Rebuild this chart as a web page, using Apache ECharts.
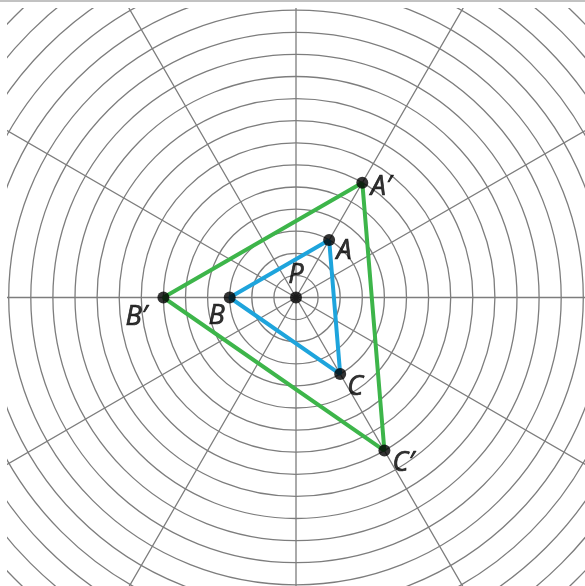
<!DOCTYPE html>
<html>
<head>
<meta charset="utf-8">
<script src="https://cdn.jsdelivr.net/npm/echarts@6/dist/echarts.min.js"></script>
<style>
html,body{margin:0;padding:0;background:#fff;}
#c{width:585px;height:586px;}
</style>
</head>
<body>
<div id="c"></div>
<script>
// Data: points as [radius (grid units), angle (degrees)]
const pointNames = ['P', 'A', 'B', 'C', 'A′', 'B′', 'C′'];
const pointRadius = [0, 3, 3, 4, 6, 6, 8];
const pointAngle = [0, 60, 180, 300, 60, 180, 300];
const triangleOriginal = ['A', 'B', 'C'];
const triangleImage = ['A′', 'B′', 'C′'];
const ringCount = 19;
const spokeStep = 30;

// styles (label offsets in px)
const labelOffsets = {
  'P': [0, -22], 'A': [15, 11], 'B': [-13, 19], 'C': [15, 13],
  'A′': [19, 5], 'B′': [-27, 20], 'C′': [19, 13]
};

const ringPx = 22.1;
const center = [296, 297.5];

function pt(name) {
  const i = pointNames.indexOf(name);
  return [pointRadius[i], pointAngle[i]];
}
function closed(names) {
  const arr = names.map(pt);
  arr.push(pt(names[0]));
  return arr;
}

const chart = echarts.init(document.getElementById('c'), null, {renderer: 'canvas'});
const gridColor = '#7d7d7d';
chart.setOption({
  animation: false,
  backgroundColor: '#ffffff',
  polar: { center: center, radius: ringPx * ringCount },
  radiusAxis: {
    type: 'value', min: 0, max: ringCount, interval: 1,
    axisLine: {show: false}, axisTick: {show: false}, axisLabel: {show: false},
    splitLine: {show: true, lineStyle: {color: gridColor, width: 1.3}}
  },
  angleAxis: {
    type: 'value', min: 0, max: 360, interval: spokeStep, startAngle: 0, clockwise: false,
    axisLine: {show: false}, axisTick: {show: false}, axisLabel: {show: false},
    splitLine: {show: true, lineStyle: {color: gridColor, width: 1.3}}
  },
  series: [
    {
      type: 'line', coordinateSystem: 'polar', data: closed(triangleImage),
      symbol: 'none', lineStyle: {color: '#3db54a', width: 4}, z: 3
    },
    {
      type: 'line', coordinateSystem: 'polar', data: closed(triangleOriginal),
      symbol: 'none', lineStyle: {color: '#1ea4dc', width: 4}, z: 4
    },
    {
      type: 'scatter', coordinateSystem: 'polar', z: 5,
      symbolSize: 12,
      itemStyle: {color: '#000000'},
      data: pointNames.map((n, i) => ({
        name: n,
        value: [pointRadius[i], pointAngle[i]],
        label: {
          show: true, formatter: n, position: 'inside',
          offset: labelOffsets[n],
          color: '#000', fontSize: 27, fontStyle: 'italic',
          textBorderColor: '#000', textBorderWidth: 0.7,
          fontFamily: 'Open Sans', align: 'center', verticalAlign: 'middle'
        }
      }))
    }
  ],
  graphic: [
    {type: 'rect', z: 100, shape: {x: 0, y: 0, width: 585, height: 8}, style: {fill: '#ffffff'}},
    {type: 'rect', z: 100, shape: {x: 0, y: 0, width: 7, height: 586}, style: {fill: '#ffffff'}},
    {type: 'rect', z: 101, shape: {x: 0, y: 0, width: 585, height: 2}, style: {fill: '#c2c2c2'}}
  ]
});
</script>
</body>
</html>
